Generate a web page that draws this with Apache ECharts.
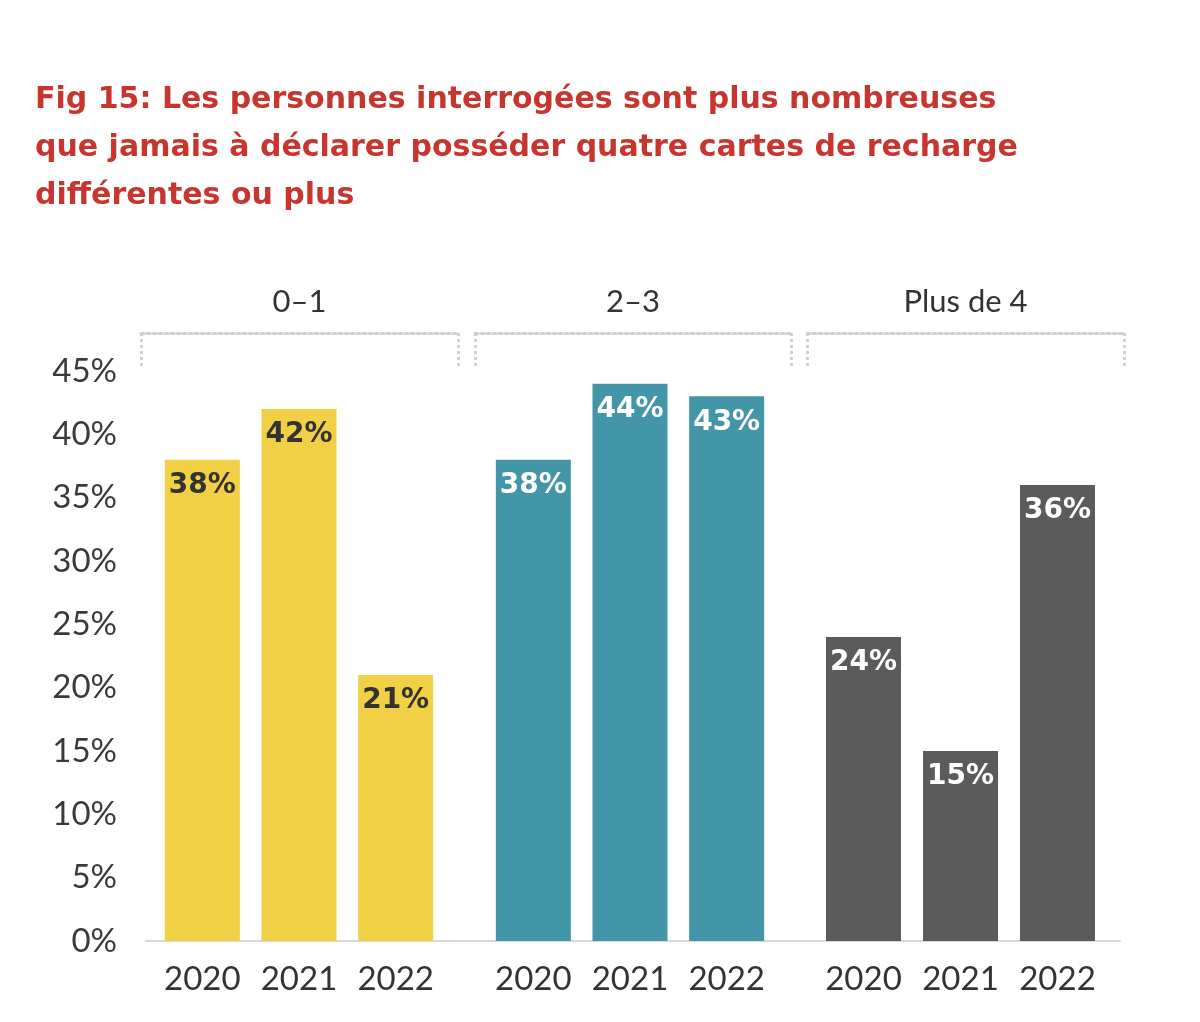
<!DOCTYPE html>
<html>
<head>
<meta charset="utf-8">
<script src="https://cdn.jsdelivr.net/npm/echarts@6/dist/echarts.min.js"></script>
<style>
  html, body { margin: 0; padding: 0; background: #fff; }
  #chart { width: 1200px; height: 1022px; }
</style>
</head>
<body>
<div id="chart"></div>
<script>
const years = ["2020", "2021", "2022"];
const groups = ["0–1", "2–3", "Plus de 4"];
const cards01 = [38, 42, 21];
const cards23 = [38, 44, 43];
const cards4plus = [24, 15, 36];
const colors = ["#F2D046", "#4396A7", "#5B5B5B"];
const labelColors = ["#333333", "#ffffff", "#ffffff"];

const FONT = "Lato";
const HEAVY = "DejaVu Sans";
const TOP = 371;
const BOTTOM = 1022 - 941;

let chartDom = document.getElementById("chart");
let myChart = echarts.init(chartDom);
let option;

// bar grids and bracket grids per group
const barGrids = [
  { left: 154, width: 290 },
  { left: 485, width: 290 },
  { left: 815, width: 291 }
];
const bracketGrids = [
  { left: 141, width: 317 },
  { left: 475, width: 316 },
  { left: 807, width: 317 }
];
const groupData = [cards01, cards23, cards4plus];

const grid = [{ left: 146, right: 80, top: TOP, bottom: BOTTOM }];
const xAxis = [
  {
    gridIndex: 0,
    type: "category",
    data: [""],
    axisLine: { lineStyle: { color: "#d9d9d9", width: 2 } },
    axisTick: { show: false },
    axisLabel: { show: false }
  }
];
const yAxis = [
  {
    gridIndex: 0,
    type: "value",
    min: 0,
    max: 45,
    interval: 5,
    splitLine: { show: false },
    axisLine: { show: false },
    axisTick: { show: false },
    axisLabel: {
      formatter: "{value}%",
      fontFamily: FONT,
      fontSize: 33,
      color: "#3a3a3a",
      margin: 29
    }
  }
];
const series = [];

groupData.forEach((values, i) => {
  // bars
  grid.push({ left: barGrids[i].left, width: barGrids[i].width, top: TOP, bottom: BOTTOM });
  const g = grid.length - 1;
  xAxis.push({
    gridIndex: g,
    type: "category",
    data: years,
    axisLine: { show: false },
    axisTick: { show: false },
    axisLabel: { interval: 0, fontFamily: FONT, fontSize: 33, color: "#333", margin: 22 }
  });
  yAxis.push({ gridIndex: g, type: "value", min: 0, max: 45, show: false });
  series.push({
    name: groups[i],
    type: "bar",
    xAxisIndex: g,
    yAxisIndex: g,
    data: values,
    barWidth: 75,
    itemStyle: { color: colors[i] },
    label: {
      show: true,
      position: "insideTop",
      distance: 12,
      formatter: "{c}%",
      fontFamily: HEAVY,
      fontWeight: "bold",
      fontSize: 28,
      color: labelColors[i]
    }
  });

  // dotted bracket with group name
  grid.push({ left: bracketGrids[i].left, width: bracketGrids[i].width, top: 333, height: 36 });
  const b = grid.length - 1;
  xAxis.push({
    gridIndex: b,
    type: "category",
    position: "top",
    data: [groups[i]],
    axisLine: { onZero: false, lineStyle: { color: "#d0d0d0", width: 3, type: [3, 3] } },
    axisTick: { show: true, inside: true, length: 36, lineStyle: { color: "#d0d0d0", width: 3, type: [3, 3] } },
    axisLabel: { fontFamily: FONT, fontSize: 31, color: "#333", margin: 16 }
  });
  yAxis.push({ gridIndex: b, type: "value", min: 0, max: 1, show: false });
});

option = {
  backgroundColor: "#ffffff",
  animation: false,
  title: {
    text: "Fig 15: Les personnes interrogées sont plus nombreuses\nque jamais à déclarer posséder quatre cartes de recharge\ndifférentes ou plus",
    left: 30,
    top: 71,
    textStyle: {
      fontFamily: HEAVY,
      fontWeight: "bold",
      fontSize: 30,
      lineHeight: 48,
      color: "#C8352E"
    }
  },
  grid: grid,
  xAxis: xAxis,
  yAxis: yAxis,
  series: series
};

option && myChart.setOption(option);
</script>
</body>
</html>
